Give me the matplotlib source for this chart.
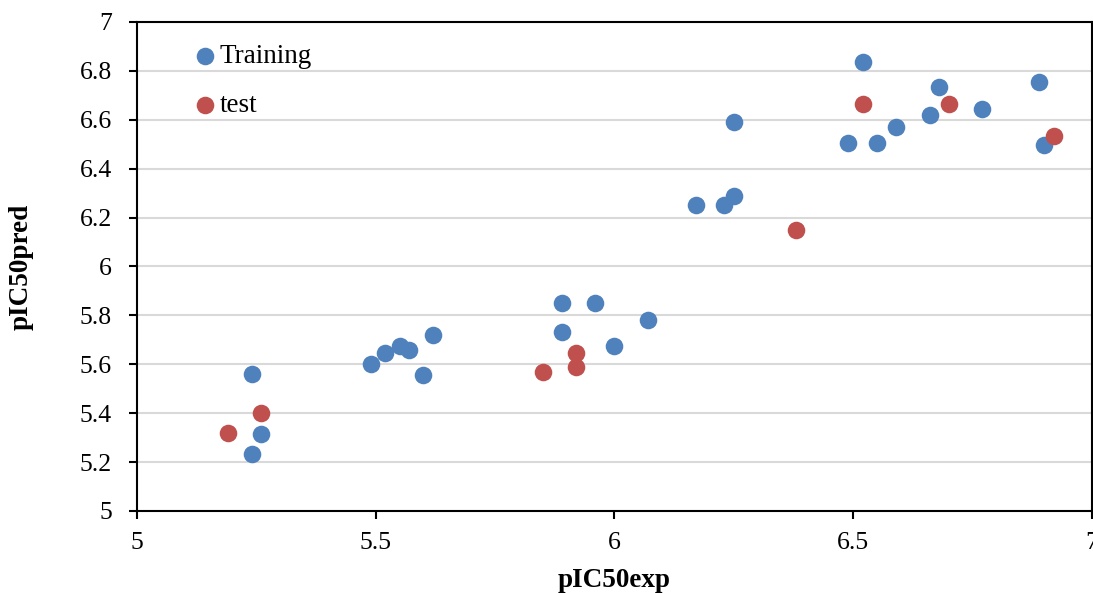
import matplotlib.pyplot as plt

plt.rcParams['font.family'] = ['Liberation Serif', 'DejaVu Serif']

# Training set (pIC50exp, pIC50pred)
train_exp = [5.24, 5.26, 5.24, 5.49, 5.52, 5.55, 5.57, 5.60, 5.62,
             5.89, 5.89, 5.96, 6.00, 6.07, 6.17, 6.23, 6.25, 6.25,
             6.49, 6.52, 6.55, 6.59, 6.66, 6.68, 6.77, 6.89, 6.90]
train_pred = [5.56, 5.315, 5.235, 5.60, 5.645, 5.675, 5.66, 5.555, 5.72,
              5.85, 5.73, 5.85, 5.675, 5.78, 6.25, 6.25, 6.29, 6.59,
              6.505, 6.835, 6.505, 6.57, 6.62, 6.735, 6.645, 6.755, 6.495]

# Test set
test_exp = [5.19, 5.26, 5.85, 5.92, 5.92, 6.38, 6.52, 6.70, 6.92]
test_pred = [5.32, 5.40, 5.57, 5.645, 5.59, 6.15, 6.665, 6.665, 6.535]

blue = '#4F81BD'
red = '#C0504D'

fig = plt.figure(figsize=(10.93, 5.93), dpi=100)
ax = fig.add_axes([0.1253, 0.1383, 0.8737, 0.8247])

ax.scatter(train_exp, train_pred, s=160, color=blue, label='Training', zorder=3, linewidths=0)
ax.scatter(test_exp, test_pred, s=160, color=red, label='test', zorder=3, linewidths=0)

ax.set_xlim(5, 7)
ax.set_ylim(5, 7)
ax.set_xticks([5, 5.5, 6, 6.5, 7])
ax.set_xticklabels(['5', '5.5', '6', '6.5', '7'])
ax.set_yticks([5 + 0.2 * i for i in range(11)])
ax.set_yticklabels(['5', '5.2', '5.4', '5.6', '5.8', '6', '6.2', '6.4', '6.6', '6.8', '7'])

ax.grid(axis='y', color='#D9D9D9', linewidth=1.5, zorder=0)
ax.set_axisbelow(True)
for sp in ax.spines.values():
    sp.set_linewidth(1.5)
    sp.set_color('black')

ax.tick_params(axis='both', direction='out', length=6, width=1.5, labelsize=18.5)
ax.tick_params(axis='x', pad=9)
ax.tick_params(axis='y', pad=12)

ax.set_xlabel('pIC50exp', fontsize=19.5, fontweight='bold', labelpad=10)
ax.set_ylabel('pIC50pred', fontsize=19.5, fontweight='bold', labelpad=33)

ax.legend(loc='upper left', bbox_to_anchor=(0.043, 0.993), frameon=False, fontsize=19.5,
          handlelength=0.6, handletextpad=0.25, labelspacing=0.88, scatterpoints=1,
          borderaxespad=0.3)

fig.savefig('out.png', dpi=100)
